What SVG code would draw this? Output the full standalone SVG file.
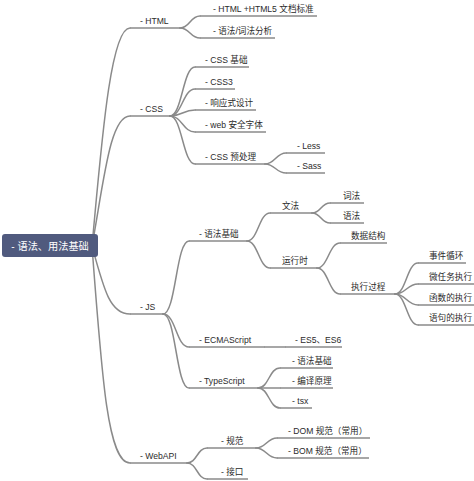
<svg xmlns="http://www.w3.org/2000/svg" width="474" height="481" viewBox="0 0 474 481">
<style>
.e{fill:none;stroke:#8a8a8a;stroke-width:1.5;stroke-linecap:round}
.u{fill:none;stroke:#8a8a8a;stroke-width:1.5}
.t{font-family:"Liberation Sans","Noto Sans CJK SC",sans-serif;font-size:8.6px;fill:#2b2b2b}
.r{font-family:"Liberation Sans","Noto Sans CJK SC",sans-serif;font-size:10.2px;fill:#fff}
</style>
<rect width="474" height="481" fill="#fff"/>
<g id="connectors">
<path class="e" d="M92 246 C101 150,110 28,130 28"/>
<path class="e" d="M92 246 C104 180,110 116,130 116"/>
<path class="e" d="M92 246 C104 290,110 314,130 314"/>
<path class="e" d="M92 246 C102 380,108 463,130 463"/>
<path class="e" d="M180 28 C190 28,190 16,200 16"/>
<path class="e" d="M180 28 C190 28,190 38,200 38"/>
<path class="e" d="M170 116 C182 116,183 67,195 67"/>
<path class="e" d="M170 116 C182 116,183 89,195 89"/>
<path class="e" d="M170 116 C182 116,183 110,195 110"/>
<path class="e" d="M170 116 C182 116,183 132,195 132"/>
<path class="e" d="M170 116 C182 116,183 164,195 164"/>
<path class="e" d="M265 164 C275 164,276 153,286 153"/>
<path class="e" d="M265 164 C275 164,276 173,286 173"/>
<path class="e" d="M163 314 C176 314,176 241,189 241"/>
<path class="e" d="M163 314 C176 314,176 347,189 347"/>
<path class="e" d="M163 314 C176 314,176 388,189 388"/>
<path class="e" d="M247 241 C258 241,259 213,270 213"/>
<path class="e" d="M247 241 C258 241,259 268,270 268"/>
<path class="e" d="M312 213 C321 213,321 203,330 203"/>
<path class="e" d="M312 213 C321 213,321 223,330 223"/>
<path class="e" d="M317 268 C328 268,329 243,340 243"/>
<path class="e" d="M317 268 C328 268,329 294,340 294"/>
<path class="e" d="M395 294 C406 294,407 263,418 263"/>
<path class="e" d="M395 294 C406 294,407 284,418 284"/>
<path class="e" d="M395 294 C406 294,407 305,418 305"/>
<path class="e" d="M395 294 C406 294,407 325,418 325"/>
<path class="e" d="M265 347 H285"/>
<path class="e" d="M258 388 C269 388,269 368,280 368"/>
<path class="e" d="M258 388 H280"/>
<path class="e" d="M258 388 C269 388,269 408,280 408"/>
<path class="e" d="M187 463 C197 463,197 448,207 448"/>
<path class="e" d="M187 463 C197 463,197 479,207 479"/>
<path class="e" d="M256 448 C266 448,267 438,277 438"/>
<path class="e" d="M256 448 C266 448,267 458,277 458"/>
</g>
<g id="root">
<rect x="2" y="234" width="96" height="23" rx="3" fill="#505a7e"/>
<text class="r" x="50" y="249.5" text-anchor="middle">- 语法、用法基础</text>
</g>
<g id="html"><path class="u" d="M130 28 H180"/><text class="t" x="140" y="24">- HTML</text></g>
<g id="html-std"><path class="u" d="M200 16 H317"/><text class="t" x="213" y="12">- HTML +HTML5 文档标准</text></g>
<g id="html-lex"><path class="u" d="M200 38 H275"/><text class="t" x="213" y="34">- 语法/词法分析</text></g>
<g id="css"><path class="u" d="M130 116 H170"/><text class="t" x="140" y="112">- CSS</text></g>
<g id="css-basic"><path class="u" d="M195 67 H249"/><text class="t" x="205" y="63">- CSS 基础</text></g>
<g id="css3"><path class="u" d="M195 89 H235"/><text class="t" x="205" y="85">- CSS3</text></g>
<g id="css-responsive"><path class="u" d="M195 110 H256"/><text class="t" x="205" y="106">- 响应式设计</text></g>
<g id="css-font"><path class="u" d="M195 132 H266"/><text class="t" x="205" y="128">- web 安全字体</text></g>
<g id="css-pre"><path class="u" d="M195 164 H265"/><text class="t" x="205" y="160">- CSS 预处理</text></g>
<g id="less"><path class="u" d="M286 153 H325"/><text class="t" x="297" y="149">- Less</text></g>
<g id="sass"><path class="u" d="M286 173 H325"/><text class="t" x="297" y="169">- Sass</text></g>
<g id="js"><path class="u" d="M130 314 H163"/><text class="t" x="140" y="310">- JS</text></g>
<g id="js-syntax"><path class="u" d="M189 241 H247"/><text class="t" x="199" y="237">- 语法基础</text></g>
<g id="grammar"><path class="u" d="M270 213 H312"/><text class="t" x="282" y="209">文法</text></g>
<g id="lexis"><path class="u" d="M330 203 H364"/><text class="t" x="343" y="199">词法</text></g>
<g id="syntax"><path class="u" d="M330 223 H364"/><text class="t" x="343" y="219">语法</text></g>
<g id="runtime"><path class="u" d="M270 268 H317"/><text class="t" x="282" y="264">运行时</text></g>
<g id="datastruct"><path class="u" d="M340 243 H387"/><text class="t" x="351" y="239">数据结构</text></g>
<g id="exec"><path class="u" d="M340 294 H395"/><text class="t" x="351" y="290">执行过程</text></g>
<g id="eventloop"><path class="u" d="M418 263 H466"/><text class="t" x="429" y="259">事件循环</text></g>
<g id="microtask"><path class="u" d="M418 284 H474"/><text class="t" x="429" y="280">微任务执行</text></g>
<g id="funcexec"><path class="u" d="M418 305 H474"/><text class="t" x="429" y="301">函数的执行</text></g>
<g id="stmtexec"><path class="u" d="M418 325 H474"/><text class="t" x="429" y="321">语句的执行</text></g>
<g id="ecmascript"><path class="u" d="M189 347 H265"/><text class="t" x="199" y="343">- ECMAScript</text></g>
<g id="es5"><path class="u" d="M285 347 H342"/><text class="t" x="295" y="343">- ES5、ES6</text></g>
<g id="typescript"><path class="u" d="M189 388 H258"/><text class="t" x="199" y="384">- TypeScript</text></g>
<g id="ts-syntax"><path class="u" d="M280 368 H333"/><text class="t" x="292" y="364">- 语法基础</text></g>
<g id="ts-compile"><path class="u" d="M280 388 H333"/><text class="t" x="292" y="384">- 编译原理</text></g>
<g id="tsx"><path class="u" d="M280 408 H312"/><text class="t" x="292" y="404">- tsx</text></g>
<g id="webapi"><path class="u" d="M130 463 H187"/><text class="t" x="140" y="459">- WebAPI</text></g>
<g id="spec"><path class="u" d="M207 448 H256"/><text class="t" x="221" y="444">- 规范</text></g>
<g id="dom"><path class="u" d="M277 438 H370"/><text class="t" x="288" y="434">- DOM 规范（常用）</text></g>
<g id="bom"><path class="u" d="M277 458 H369"/><text class="t" x="288" y="454">- BOM 规范（常用）</text></g>
<g id="iface"><path class="u" d="M207 479 H248"/><text class="t" x="221" y="475">- 接口</text></g>
</svg>
